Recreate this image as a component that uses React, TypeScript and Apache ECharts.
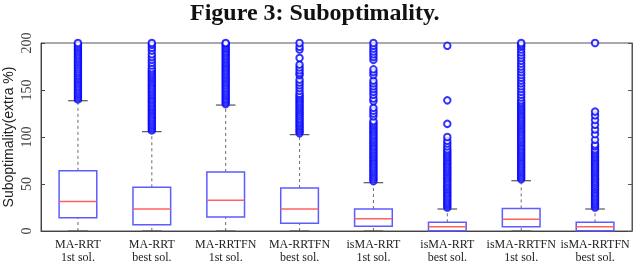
import React, { useEffect, useRef } from "react";
import * as echarts from "echarts";

const titleText = "Figure 3: Suboptimality.";
const yAxisTitle = "Suboptimality(extra %)";
const algorithms = ["MA-RRT", "MA-RRT", "MA-RRTFN", "MA-RRTFN", "isMA-RRT", "isMA-RRT", "isMA-RRTFN", "isMA-RRTFN"];
const solutions = ["1st sol.", "best sol.", "1st sol.", "best sol.", "1st sol.", "best sol.", "1st sol.", "best sol."];
const yTicks = [0, 50, 100, 150, 200];

const lowerWhisker = [0, 0, 0, 0, 0, 0, 0, 0];
const q1 = [14, 6.7, 14.9, 8.2, 5, 0.3, 4.6, 0.3];
const median = [31.5, 23.4, 32.6, 23.4, 13, 4.6, 12.4, 4.6];
const q3 = [64, 46.5, 62.8, 45.7, 23.4, 9.2, 24, 9.2];
const upperWhisker = [138.6, 105.7, 134, 102.5, 51.4, 23.4, 53.5, 23.4];

const outliers1 = [140, 142, 144, 146, 148, 150, 152, 154, 156, 158, 160, 162, 164, 166, 168, 170, 172, 174, 176, 178, 180, 182, 184, 186, 188, 190, 192, 194, 196, 198, 200];
const outliers2 = [107, 109, 111, 113, 115, 117, 119, 121, 123, 125, 127, 129, 131, 133, 135, 137, 139, 141, 143, 145, 147, 149, 151, 153, 155, 157, 159, 161, 163, 165, 167, 169, 171, 173, 176, 179, 182, 185, 188, 192, 195, 198, 200];
const outliers3 = [135, 137, 139, 141, 143, 145, 147, 149, 151, 153, 155, 157, 159, 161, 163, 165, 167, 169, 171, 173, 175, 177, 179, 181, 183, 185, 187, 189, 191, 193, 195, 197, 199, 200];
const outliers4 = [104, 106, 108, 110, 112, 114, 116, 118, 120, 122, 124, 126, 128, 130, 132, 134, 136, 138, 140, 142, 144, 146, 149, 152, 155, 158, 161, 166, 168, 171, 174, 177, 184, 193, 196, 200];
const outliers5 = [53, 55, 57, 59, 61, 63, 65, 67, 69, 71, 73, 75, 77, 79, 81, 83, 85, 87, 89, 91, 93, 95, 97, 99, 101, 103, 105, 107, 109, 111, 113, 115, 117, 122, 125, 128, 131, 138, 141, 145, 148, 151, 154, 157, 160, 166, 169, 172, 182, 185, 188, 191, 194, 197, 200];
const outliers6 = [25, 27, 29, 31, 33, 35, 37, 39, 41, 43, 45, 47, 49, 51, 53, 55, 57, 59, 61, 63, 65, 67, 69, 71, 73, 75, 77, 79, 81, 83, 85, 87, 90, 93, 96, 100, 114, 139, 197];
const outliers7 = [55, 57, 59, 61, 63, 65, 67, 69, 71, 73, 75, 77, 79, 81, 83, 85, 87, 89, 91, 93, 95, 97, 99, 101, 103, 105, 107, 109, 111, 113, 115, 117, 119, 121, 123, 125, 127, 129, 131, 133, 135, 137, 139, 142, 145, 148, 151, 154, 157, 160, 163, 166, 169, 172, 175, 178, 181, 184, 187, 190, 193, 196, 198, 200];
const outliers8 = [25, 27, 29, 31, 33, 35, 37, 39, 41, 43, 45, 47, 49, 51, 53, 55, 57, 59, 61, 63, 65, 67, 69, 71, 73, 75, 77, 79, 81, 83, 85, 87, 90, 92, 97, 103, 108, 113, 118, 123, 127, 200];
const outlierGroups = [outliers1, outliers2, outliers3, outliers4, outliers5, outliers6, outliers7, outliers8];

export default function App() {
  const ref = useRef<HTMLDivElement>(null);
  useEffect(() => {
    if (!ref.current) return;
    const chart = echarts.init(ref.current, null, { renderer: "svg" });
    const labels = algorithms.map((a, i) => a + "\n" + solutions[i]);
    const boxData = algorithms.map((_, i) => [i, lowerWhisker[i], q1[i], median[i], q3[i], upperWhisker[i]]);
    const outlierData: number[][] = [];
    outlierGroups.forEach((g, i) => g.forEach((v) => outlierData.push([i, v])));

    chart.setOption({
      animation: false,
      title: {
        text: titleText,
        left: 190,
        top: 0,
        padding: 0,
        textStyle: { fontFamily: "Liberation Serif", fontWeight: "bold", fontSize: 24, lineHeight: 24, color: "#111" },
      },
      grid: {
        left: 41,
        right: 8,
        top: 43,
        bottom: 32,
        show: true,
        borderColor: "#555",
        borderWidth: 1,
        containLabel: false,
        outerBoundsMode: "none",
      },
      xAxis: {
        type: "category",
        data: labels,
        axisLine: { lineStyle: { color: "#444" } },
        axisTick: { show: false },
        axisLabel: { fontFamily: "Liberation Serif", fontSize: 12, color: "#222", lineHeight: 13, margin: 6, interval: 0, hideOverlap: false },
      },
      yAxis: [
        {
          type: "value",
          min: 0,
          max: 200,
          interval: 50,
          name: yAxisTitle,
          nameLocation: "middle",
          nameGap: 26,
          nameMoveOverlap: false,
          nameTextStyle: { fontFamily: "Liberation Sans", fontSize: 14, color: "#222" },
          axisLine: { show: true, lineStyle: { color: "#444" } },
          axisTick: { show: true, inside: true, length: 4, lineStyle: { color: "#444" } },
          axisLabel: {
            rotate: 90,
            margin: 8,
            fontFamily: "Liberation Serif",
            fontSize: 14,
            color: "#444",
            formatter: (v: number) => (yTicks.includes(v) ? String(v) : ""),
          },
          splitLine: { show: false },
        },
        {
          type: "value",
          min: 0,
          max: 200,
          interval: 50,
          position: "right",
          axisLine: { show: true, lineStyle: { color: "#555" } },
          axisTick: { show: true, inside: true, length: 4, lineStyle: { color: "#555" } },
          axisLabel: { show: false },
          splitLine: { show: false },
        },
      ],
      series: [
        {
          type: "custom",
          data: boxData,
          encode: { x: 0, y: [1, 2, 3, 4, 5] },
          z: 2,
          renderItem: (params: any, api: any) => {
            const i = api.value(0);
            const lo = api.coord([i, api.value(1)]);
            const b1 = api.coord([i, api.value(2)]);
            const md = api.coord([i, api.value(3)]);
            const b3 = api.coord([i, api.value(4)]);
            const hi = api.coord([i, api.value(5)]);
            const bw = api.size([1, 0])[0] * 0.51;
            const cw = bw * 0.52;
            const x = lo[0];
            const dash = { stroke: "#6a6a6a", lineWidth: 1, lineDash: [3, 3] };
            const cap = { stroke: "#555", lineWidth: 1.2 };
            return {
              type: "group",
              children: [
                { type: "line", shape: { x1: x, y1: b3[1], x2: x, y2: hi[1] }, style: dash },
                { type: "line", shape: { x1: x, y1: lo[1], x2: x, y2: b1[1] }, style: dash },
                { type: "line", shape: { x1: x - cw / 2, y1: hi[1], x2: x + cw / 2, y2: hi[1] }, style: cap },
                { type: "line", shape: { x1: x - cw / 2, y1: lo[1], x2: x + cw / 2, y2: lo[1] }, style: cap },
                {
                  type: "rect",
                  shape: { x: x - bw / 2, y: b3[1], width: bw, height: b1[1] - b3[1] },
                  style: { fill: "none", stroke: "#5c5cff", lineWidth: 1.5 },
                },
                { type: "line", shape: { x1: x - bw / 2, y1: md[1], x2: x + bw / 2, y2: md[1] }, style: { stroke: "#ff6060", lineWidth: 1.5 } },
              ],
            };
          },
        },
        {
          type: "scatter",
          data: outlierData,
          symbol: "emptyCircle",
          symbolSize: 6.5,
          z: 3,
          clip: false,
          itemStyle: { color: "#0000ff", borderColor: "#0000ff", borderWidth: 1.2 },
        },
      ],
    });
    return () => chart.dispose();
  }, []);
  return <div ref={ref} style={{ position: "fixed", left: 0, top: 0, width: 640, height: 263 }} />;
}
